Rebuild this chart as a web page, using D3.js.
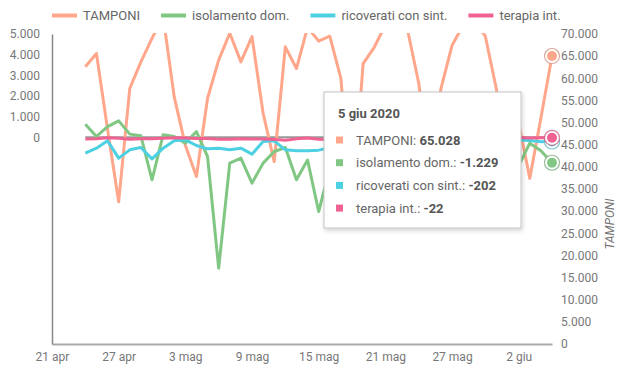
<!DOCTYPE html>
<html>
<head>
<meta charset="utf-8">
<script src="https://cdn.jsdelivr.net/npm/d3@7"></script>
<style>
  html, body { margin: 0; padding: 0; background: #fff; }
  svg { display: block; font-family: Roboto, "Noto Sans", sans-serif; }
</style>
</head>
<body>
<svg id="chart" width="628" height="380"></svg>
<script>
// ---------- data ----------
const dates = d3.timeDay.range(new Date(2020, 3, 24), new Date(2020, 5, 6));
const tamponi = [62600, 65600, 48500, 32100, 57700, 63700, 69000, 74000, 55800, 44900,
  37800, 55500, 64100, 70200, 63700, 69400, 52100, 41200, 67100, 62200,
  71500, 68400, 69500, 60000, 30000, 63300, 67000, 72000, 75000, 70900,
  59000, 40000, 57600, 67400, 72000, 73000, 69500, 57500, 35000, 50000,
  37400, 51000, 65028];
const isolamento = [638, 40, 522, 798, 155, 72, -2056, 120, 40, -281,
  280, -929, -6329, -1248, -1006, -2216, -1248, -687, -493, -2056,
  -1100, -3590, -1500, -1200, -800, -2400, -1500, -1900, -700, -1300,
  -400, -1600, -900, -1800, -1100, -2000, -600, -1400, -900, -1380,
  -281, -650, -1229];
const ricoverati = [-766, -524, -170, -1006, -605, -493, -1040, -524, -170, -121,
  -397, -556, -524, -605, -524, -814, -203, -170, -605, -653,
  -653, -620, -500, -450, -300, -550, -400, -450, -300, -350,
  -250, -200, -350, -300, -200, -250, -150, -200, -150, -130,
  -150, -210, -202];
const terapia = [-85, -74, -19, -39, -93, -72, -71, -40, -23, -38,
  -61, -57, -95, -94, -71, -77, -81, -99, -145, -74,
  -32, -93, -106, -47, -60, -45, -45, -66, -31, -25,
  -46, -23, -27, -20, -12, -19, -34, -40, -30, -6,
  -28, -20, -22];

const seriesNames = ["TAMPONI", "isolamento dom.", "ricoverati con sint.", "terapia int."];
const seriesColors = ["#FFA68B", "#81C784", "#4DD0E1", "#F06292"];
const seriesAxis = ["right", "left", "left", "left"];
const seriesValues = [tamponi, isolamento, ricoverati, terapia];

const xTickDates = [new Date(2020,3,21), new Date(2020,3,27), new Date(2020,4,3), new Date(2020,4,9),
  new Date(2020,4,15), new Date(2020,4,21), new Date(2020,4,27), new Date(2020,5,2)];
const monthNames = ["gen","feb","mar","apr","mag","giu","lug","ago","set","ott","nov","dic"];
const leftTicks = [0, 1000, 2000, 3000, 4000, 5000];
const rightTicks = d3.range(0, 70001, 5000);
const tooltipTitle = "5 giu 2020";

// ---------- setup ----------
const it = d3.formatLocale({decimal: ",", thousands: ".", grouping: [3], currency: ["€", ""], minus: "-"});
const fmt = it.format(",d");

const svg = d3.select("#chart");
const L = 52, R = 552, T = 34, B = 344;

const x = d3.scaleTime().domain([new Date(2020,3,21), new Date(2020,5,5)]).range([L, R]);
const yL = d3.scaleLinear().domain([-10000, 5000]).range([B, T]);
const yR = d3.scaleLinear().domain([0, 70000]).range([B, T]);

const defs = svg.append("defs");
defs.append("clipPath").attr("id", "plotclip")
  .append("rect").attr("x", L).attr("y", 33).attr("width", R - L + 10).attr("height", B - 33);
const f = defs.append("filter").attr("id", "shadow").attr("x", "-10%").attr("y", "-10%").attr("width", "130%").attr("height", "130%");
f.append("feDropShadow").attr("dx", 1).attr("dy", 2).attr("stdDeviation", 2).attr("flood-color", "#000").attr("flood-opacity", 0.18);

// ---------- axes ----------
const xAxis = d3.axisBottom(x).tickValues(xTickDates)
  .tickFormat(d => d.getDate() + " " + monthNames[d.getMonth()]).tickSize(0).tickPadding(8);
const gx = svg.append("g").attr("transform", `translate(0,${B})`).call(xAxis);
gx.select(".domain").attr("stroke", "#aaa").attr("stroke-width", 2);
gx.selectAll("text").attr("fill", "#777").attr("font-size", 12).attr("font-family", "Roboto");

const yAxisL = d3.axisLeft(yL).tickValues(leftTicks).tickFormat(fmt).tickSize(0).tickPadding(12);
const gl = svg.append("g").attr("transform", `translate(${L},0)`).call(yAxisL);
gl.select(".domain").attr("stroke", "#888").attr("stroke-width", 1.5);
gl.selectAll("text").attr("fill", "#777").attr("font-size", 12).attr("font-family", "Roboto");

const yAxisR = d3.axisRight(yR).tickValues(rightTicks).tickFormat(fmt).tickSize(0).tickPadding(9);
const gr = svg.append("g").attr("transform", `translate(${R},0)`).call(yAxisR);
gr.select(".domain").remove();
gr.selectAll("text").attr("fill", "#777").attr("font-size", 12).attr("font-family", "Roboto");

svg.append("text")
  .attr("transform", `translate(614,${(T + B) / 2 + 35}) rotate(-90)`)
  .attr("text-anchor", "middle")
  .attr("font-size", 12).attr("font-style", "italic").attr("fill", "#777")
  .text("TAMPONI");

// ---------- lines ----------
const plot = svg.append("g").attr("clip-path", "url(#plotclip)");

plot.append("line")
  .attr("x1", x(dates[0])).attr("x2", x(dates[dates.length - 1]))
  .attr("y1", yL(0)).attr("y2", yL(0))
  .attr("stroke", "#999").attr("stroke-width", 2);

seriesValues.forEach((vals, i) => {
  const ys = seriesAxis[i] === "right" ? yR : yL;
  const line = d3.line().x((d, j) => x(dates[j])).y(d => ys(d));
  plot.append("path").datum(vals)
    .attr("d", line)
    .attr("fill", "none")
    .attr("stroke", seriesColors[i])
    .attr("stroke-width", 3)
    .attr("stroke-linejoin", "round");
});

const last = dates.length - 1;
[0, 1, 2, 3].forEach(i => {
  const ys = seriesAxis[i] === "right" ? yR : yL;
  const cx = x(dates[last]), cy = ys(seriesValues[i][last]);
  const c = d3.color(seriesColors[i]);
  svg.append("circle").attr("cx", cx).attr("cy", cy).attr("r", 7.5)
    .attr("fill", "#fff").attr("stroke", c.darker(0.6)).attr("stroke-opacity", 0.7).attr("stroke-width", 1.2);
  svg.append("circle").attr("cx", cx).attr("cy", cy).attr("r", 5)
    .attr("fill", seriesColors[i]);
});

// ---------- legend ----------
const lg = svg.append("g").attr("font-size", 13).attr("fill", "#666");
let lx = 52;
seriesNames.forEach((name, i) => {
  lg.append("line").attr("x1", lx).attr("x2", lx + 25).attr("y1", 15.5).attr("y2", 15.5)
    .attr("stroke", seriesColors[i]).attr("stroke-width", 4);
  const t = lg.append("text").attr("x", lx + 31).attr("y", 15.5).attr("dy", "0.35em")
    .attr("fill", "#666").text(name);
  lx = lx + 31 + t.node().getComputedTextLength() + 21;
});

// ---------- tooltip ----------
const tt = svg.append("g").attr("transform", "translate(324,92)");
tt.append("rect").attr("width", 197).attr("height", 136)
  .attr("fill", "#fff").attr("stroke", "#c4c4c4").attr("stroke-width", 1)
  .attr("filter", "url(#shadow)");
tt.append("text").attr("x", 14).attr("y", 21).attr("dy", "0.35em")
  .attr("font-size", 13).attr("font-weight", "bold").attr("fill", "#555").text(tooltipTitle);
seriesNames.forEach((name, i) => {
  const yy = 48 + i * 22.7;
  tt.append("rect").attr("x", 12).attr("y", yy - 3.5).attr("width", 7).attr("height", 7)
    .attr("fill", seriesColors[i]);
  const t = tt.append("text").attr("x", 32).attr("y", yy).attr("dy", "0.35em")
    .attr("font-size", 13).attr("fill", "#666");
  t.append("tspan").text(name + ": ");
  t.append("tspan").attr("font-weight", "bold").attr("fill", "#555").text(fmt(seriesValues[i][last]));
});
</script>
</body>
</html>
